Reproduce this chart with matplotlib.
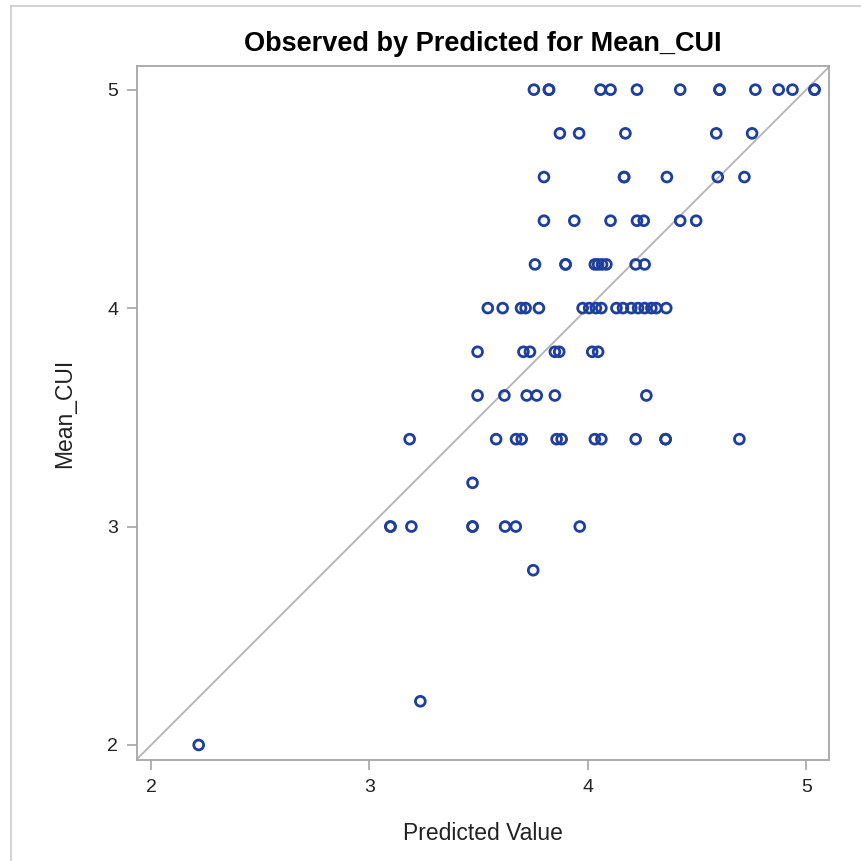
import numpy as np
import matplotlib
matplotlib.use("Agg")
import matplotlib.pyplot as plt
from matplotlib.lines import Line2D

plt.rcParams['font.family'] = ['Liberation Sans', 'DejaVu Sans']

# observed Mean_CUI levels and the predicted values found at each level
level_5_0 = [3.753, 3.822, 3.822, 4.058, 4.104, 4.225, 4.423, 4.603, 4.603,
             4.767, 4.874, 4.937, 5.038, 5.038]
level_4_8 = [3.872, 3.960, 4.172, 4.588, 4.752]
level_4_6 = [3.799, 4.166, 4.166, 4.362, 4.595, 4.717]
level_4_4 = [3.799, 3.938, 4.104, 4.225, 4.256, 4.423, 4.496]
level_4_2 = [3.758, 3.898, 3.898, 4.032, 4.047, 4.065, 4.085, 4.219, 4.260]
level_4_0 = [3.542, 3.610, 3.694, 3.715, 3.776, 3.976, 4.006, 4.037, 4.062,
             4.131, 4.161, 4.199, 4.230, 4.260, 4.291, 4.313, 4.359]
level_3_8 = [3.495, 3.705, 3.735, 3.849, 3.869, 4.020, 4.047]
level_3_6 = [3.495, 3.618, 3.720, 3.766, 3.849, 4.268]
level_3_4 = [3.184, 3.580, 3.671, 3.697, 3.857, 3.880, 4.032, 4.062, 4.219,
             4.356, 4.356, 4.694]
level_3_2 = [3.472]
level_3_0 = [3.096, 3.096, 3.192, 3.472, 3.472, 3.621, 3.670, 3.963]
level_2_8 = [3.750]
level_2_2 = [3.233]
level_2_0 = [2.218]

observed_levels = [5.0, 4.8, 4.6, 4.4, 4.2, 4.0, 3.8, 3.6, 3.4, 3.2, 3.0, 2.8, 2.2, 2.0]
predicted_by_level = [level_5_0, level_4_8, level_4_6, level_4_4, level_4_2,
                      level_4_0, level_3_8, level_3_6, level_3_4, level_3_2,
                      level_3_0, level_2_8, level_2_2, level_2_0]

ticks = [2, 3, 4, 5]

predicted = np.concatenate([np.array(p) for p in predicted_by_level])
observed = np.concatenate([np.full(len(p), lv) for p, lv in
                           zip(predicted_by_level, observed_levels)])

#%% Plotting
fig = plt.figure(figsize=(8.61, 8.61), dpi=100)
ax = fig.add_axes([0.159, 0.117, 0.804, 0.806])

gray = '#a6a6a6'
lo, hi = 1.93, 5.107
ax.plot([lo, hi], [lo, hi], color='#b4b4b4', lw=1.3, zorder=1)

ax.scatter(predicted, observed, s=50, facecolors='none',
           edgecolors='#1f3f9f', linewidths=2.0, zorder=3)

ax.set_xlim(1.935, 5.105)
ax.set_ylim(lo, hi)
ax.set_xticks(ticks)
ax.set_yticks(ticks)

for s in ax.spines.values():
    s.set_color(gray)
    s.set_linewidth(1.3)

ax.tick_params(length=7.5, width=1.2, color=gray, pad=6, labelsize=14,
               labelcolor='#222222')

ax.set_xlabel('Predicted Value', fontsize=16.5, color='#222222', labelpad=19)
ax.set_ylabel('Mean_CUI', fontsize=16.5, color='#222222', labelpad=22)
ax.set_title('Observed by Predicted for Mean_CUI', fontsize=19.5,
             fontweight='bold', pad=11)

# thin outer border (top and left edges visible)
fig.add_artist(Line2D([0.0128, 0.0128], [0.0, 0.993], color='#d4d4d4',
                      lw=1.5, transform=fig.transFigure))
fig.add_artist(Line2D([0.0128, 1.0], [0.993, 0.993], color='#d4d4d4',
                      lw=1.5, transform=fig.transFigure))

fig.savefig('out.png', dpi=100)
